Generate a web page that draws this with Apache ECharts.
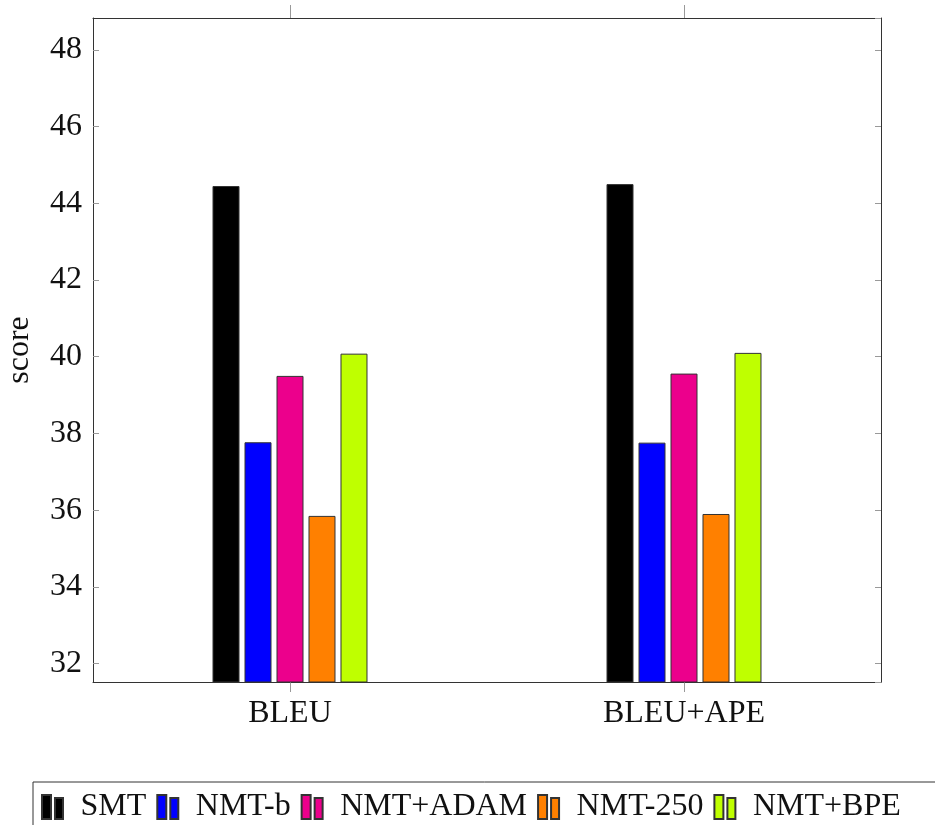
<!DOCTYPE html>
<html>
<head>
<meta charset="UTF-8">
<title>score chart</title>
<script src="https://cdn.jsdelivr.net/npm/echarts@6/dist/echarts.min.js"></script>
<style>
  html, body { margin: 0; padding: 0; background: #fff; }
</style>
</head>
<body>
    <div id="main" style="width: 935px;height:825px;"></div>

    <script type="text/javascript">
    // data
    var categories = ['BLEU', 'BLEU+APE'];
    var seriesNames = ['SMT', 'NMT-b', 'NMT+ADAM', 'NMT-250', 'NMT+BPE'];
    var smt = [44.45, 44.50];
    var nmtB = [37.77, 37.76];
    var nmtAdam = [39.50, 39.56];
    var nmt250 = [35.85, 35.90];
    var nmtBpe = [40.08, 40.10];
    var colors = ['#000000', '#0000ff', '#ec008c', '#ff8000', '#bfff00'];

    var font = 'Liberation Serif';
    var frame = '#333';
    var tickCol = '#999';

    var myChart = echarts.init(document.getElementById('main'));

    var values = [smt, nmtB, nmtAdam, nmt250, nmtBpe];
    var series = values.map(function (v, i) {
        return {
            name: seriesNames[i],
            type: 'bar',
            data: v,
            barWidth: 27,
            barGap: '18.5%',
            itemStyle: { color: colors[i], borderColor: '#333', borderWidth: 1 }
        };
    });

    var option = {
        animation: false,
        textStyle: { fontFamily: font },
        grid: { left: 93, top: 18, right: 54, bottom: 143, containLabel: false, outerBoundsMode: 'none' },
        legend: {
            left: 33,
            top: 782,
            width: 1100,
            orient: 'horizontal',
            padding: [9, 80, 30, 8],
            borderColor: '#333',
            borderWidth: 1,
            itemWidth: 22,
            itemHeight: 24,
            itemGap: 10,
            icon: 'path://M0,0h9v24h-9z M13,3h8v21h-8z',
            textStyle: { fontFamily: font, fontSize: 32, color: '#111', padding: [0, 0, 0, 12] },
            data: seriesNames
        },
        xAxis: [{
            type: 'category',
            data: categories,
            position: 'bottom',
            axisLine: { lineStyle: { color: frame } },
            axisTick: { show: true, alignWithLabel: true, length: 10, lineStyle: { color: tickCol } },
            axisLabel: { fontFamily: font, fontSize: 32, color: '#111', margin: 16 }
        }, {
            type: 'category',
            data: categories,
            position: 'top',
            axisLine: { lineStyle: { color: frame } },
            axisTick: { show: true, alignWithLabel: true, length: 13, lineStyle: { color: tickCol } },
            axisLabel: { show: false }
        }],
        yAxis: [{
            type: 'value',
            min: 31.52,
            max: 48.83,
            splitNumber: 8,
            name: 'score',
            nameLocation: 'middle',
            nameGap: 57,
            nameTextStyle: { fontFamily: font, fontSize: 32, color: '#111' },
            axisLine: { show: true, lineStyle: { color: frame } },
            axisTick: { show: true, inside: true, length: 6, lineStyle: { color: tickCol } },
            axisLabel: { fontFamily: font, fontSize: 32, color: '#111', margin: 11, showMinLabel: false, showMaxLabel: false },
            splitLine: { show: false }
        }, {
            type: 'value',
            min: 31.52,
            max: 48.83,
            splitNumber: 8,
            position: 'right',
            axisLine: { show: true, lineStyle: { color: frame } },
            axisTick: { show: true, inside: true, length: 6, lineStyle: { color: tickCol } },
            axisLabel: { show: false },
            splitLine: { show: false }
        }],
        series: series
    };

    myChart.setOption(option);
    </script>
</body>
</html>
